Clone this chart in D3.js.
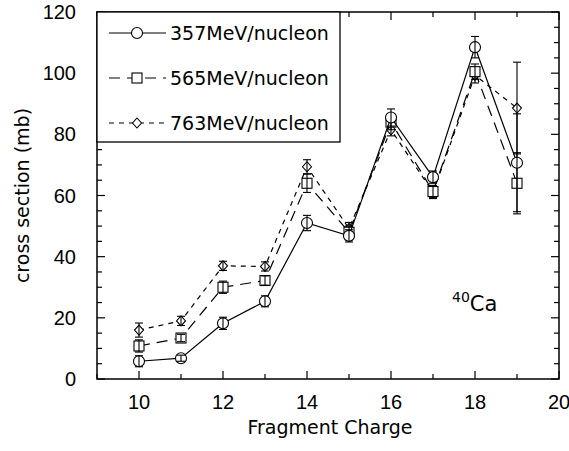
<!DOCTYPE html>
<html><head><meta charset="utf-8">
<script src="https://cdn.jsdelivr.net/npm/d3@7/dist/d3.min.js"></script>
<style>body{margin:0;background:#fff}svg{display:block}text{font-family:"Liberation Sans",Arial,sans-serif;fill:#000}.dv{font-family:"DejaVu Sans",sans-serif}</style>
</head><body>
<script>
const charges = [10, 11, 12, 13, 14, 15, 16, 17, 18, 19];
const s357 = [5.8, 6.8, 18.2, 25.4, 51.0, 46.8, 85.5, 66.0, 108.5, 70.7];
const e357 = [1.8, 1.0, 2.0, 1.8, 2.5, 2.0, 2.8, 2.0, 3.5, 16.0];
const s565 = [10.8, 13.4, 30.0, 32.2, 64.0, 48.0, 84.0, 61.3, 100.5, 64.0];
const e565 = [2.0, 1.2, 2.0, 1.5, 3.0, 2.0, 2.5, 2.0, 2.5, 10.0];
const s763 = [16.0, 19.0, 37.0, 36.8, 69.4, 49.2, 81.5, 61.0, 99.3, 88.6];
const e763 = [2.3, 1.5, 1.5, 1.5, 2.3, 2.0, 2.0, 2.0, 2.5, 15.0];
const seriesNames = ["357MeV/nucleon", "565MeV/nucleon", "763MeV/nucleon"];
const xTicks = [10, 12, 14, 16, 18, 20];
const yTicks = [0, 20, 40, 60, 80, 100, 120];

const W = 569, H = 451;
const L = 97, R = 559, T = 12, B = 379;
const svg = d3.select("body").append("svg").attr("width", W).attr("height", H);
const x = d3.scaleLinear().domain([9, 20]).range([L, R]);
const y = d3.scaleLinear().domain([0, 120]).range([B, T]);

const series = [
  {name: seriesNames[0], v: s357, e: e357, dash: null, shape: "circle"},
  {name: seriesNames[1], v: s565, e: e565, dash: "11,7", shape: "square"},
  {name: seriesNames[2], v: s763, e: e763, dash: "5,5", shape: "diamond"}
];

// ticks (all four sides, inward)
const g = svg.append("g").attr("stroke", "#000").attr("stroke-width", 1.2);
d3.range(9, 20.01, 1).forEach(t => {
  const len = t % 2 === 0 ? 8 : 5;
  g.append("line").attr("x1", x(t)).attr("x2", x(t)).attr("y1", B).attr("y2", B - len);
  g.append("line").attr("x1", x(t)).attr("x2", x(t)).attr("y1", T).attr("y2", T + len);
});
d3.range(0, 120.01, 5).forEach(t => {
  const len = t % 20 === 0 ? 8 : 5;
  g.append("line").attr("x1", L).attr("x2", L + len).attr("y1", y(t)).attr("y2", y(t));
  g.append("line").attr("x1", R).attr("x2", R - len).attr("y1", y(t)).attr("y2", y(t));
});
svg.append("rect").attr("x", L).attr("y", T).attr("width", R - L).attr("height", B - T)
  .attr("fill", "none").attr("stroke", "#000").attr("stroke-width", 1.5);

// tick labels
svg.append("g").selectAll("text").data(xTicks).join("text")
  .attr("x", d => x(d)).attr("y", 409).attr("text-anchor", "middle")
  .attr("font-size", 20).text(d => d);
svg.append("g").selectAll("text").data(yTicks).join("text")
  .attr("x", 76).attr("y", d => y(d) + 7).attr("text-anchor", "end")
  .attr("font-size", 20).text(d => d);

svg.append("text").attr("class", "dv").attr("x", 330).attr("y", 434).attr("text-anchor", "middle")
  .attr("font-size", 19).text("Fragment Charge");
svg.append("text").attr("class", "dv").attr("transform", "translate(29," + ((T + B) / 2) + ") rotate(-90)")
  .attr("text-anchor", "middle").attr("font-size", 19).text("cross section (mb)");

function marker(sel, shape) {
  if (shape === "circle") return sel.append("circle").attr("r", 5.5);
  if (shape === "square") return sel.append("rect").attr("x", -5).attr("y", -5).attr("width", 10).attr("height", 10);
  return sel.append("path").attr("d", "M0,-5L4.5,0L0,5L-4.5,0Z");
}

const line = d3.line().x(d => x(d[0])).y(d => y(d[1]));
series.slice().reverse().forEach(s => {
  const pts = charges.map((c, i) => [c, s.v[i], s.e[i]]);
  svg.append("path").attr("d", line(pts)).attr("fill", "none").attr("stroke", "#000")
    .attr("stroke-width", 1.2).attr("stroke-dasharray", s.dash);
  pts.forEach(p => {
    const gg = svg.append("g").attr("transform", `translate(${x(p[0])},${y(p[1])})`);
    marker(gg, s.shape).attr("fill", "#fff").attr("stroke", "#000").attr("stroke-width", 1.1);
  });
  pts.forEach(p => {
    const eg = svg.append("g").attr("stroke", "#000").attr("stroke-width", 1.1);
    const cx = x(p[0]);
    eg.append("line").attr("x1", cx).attr("x2", cx).attr("y1", y(p[1] - p[2])).attr("y2", y(p[1] + p[2]));
    [p[1] - p[2], p[1] + p[2]].forEach(v => eg.append("line")
      .attr("x1", cx - 4).attr("x2", cx + 4).attr("y1", y(v)).attr("y2", y(v)));
  });
});

// legend
const lg = svg.append("g");
lg.append("rect").attr("x", L).attr("y", T).attr("width", 243).attr("height", 130)
  .attr("fill", "#fff").attr("stroke", "#000").attr("stroke-width", 1.3);
series.forEach((s, i) => {
  const ly = 33 + i * 45;
  lg.append("line").attr("x1", 109).attr("x2", 166).attr("y1", ly).attr("y2", ly)
    .attr("stroke", "#000").attr("stroke-width", 1.2).attr("stroke-dasharray", s.dash);
  const mg = lg.append("g").attr("transform", `translate(137,${ly})`);
  marker(mg, s.shape).attr("fill", "#fff").attr("stroke", "#000").attr("stroke-width", 1.1);
  lg.append("text").attr("class", "dv").attr("x", 170).attr("y", ly + 7).attr("font-size", 19).text(s.name);
});

// annotation
const ann = svg.append("text").attr("class", "dv").attr("x", 452).attr("y", 311).attr("font-size", 21);
ann.append("tspan").attr("font-size", 14).attr("dy", -9).text("40");
ann.append("tspan").attr("dy", 9).text("Ca");
</script>
</body></html>
